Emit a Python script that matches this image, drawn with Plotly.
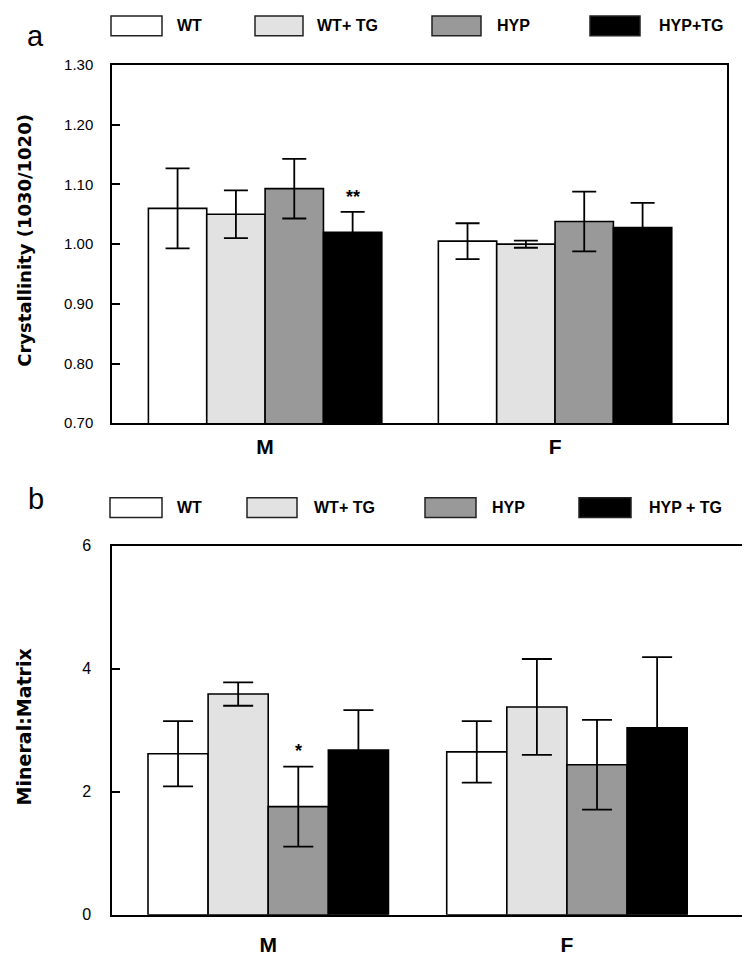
import plotly.graph_objects as go

# the page body has an 8px margin, so the figure is shifted by 8px; work in screen pixels
OFF = 8
W, H = 742, 958

groups = ["M", "F"]
series = ["WT", "WT+TG", "HYP", "HYP+TG"]
legend_a = ["WT", "WT+ TG", "HYP", "HYP+TG"]
legend_b = ["WT", "WT+ TG", "HYP", "HYP + TG"]
colors = ["#ffffff", "#e2e2e2", "#999999", "#000000"]

# panel a: crystallinity (1030/1020), mean and error for M, F
cryst_wt = [1.06, 1.005]
cryst_wt_tg = [1.05, 1.0]
cryst_hyp = [1.093, 1.038]
cryst_hyp_tg = [1.02, 1.028]
cryst_wt_err = [0.067, 0.03]
cryst_wt_tg_err = [0.04, 0.006]
cryst_hyp_err = [0.05, 0.05]
cryst_hyp_tg_err = [0.034, 0.041]

# panel b: mineral:matrix
mm_wt = [2.62, 2.65]
mm_wt_tg = [3.59, 3.38]
mm_hyp = [1.76, 2.44]
mm_hyp_tg = [2.68, 3.04]
mm_wt_err = [0.53, 0.5]
mm_wt_tg_err = [0.19, 0.78]
mm_hyp_err = [0.65, 0.73]
mm_hyp_tg_err = [0.65, 1.15]

cryst_ticks = [0.70, 0.80, 0.90, 1.00, 1.10, 1.20, 1.30]
mm_ticks = [0, 2, 4, 6]

BARGAP = 0.195
FONT = "Liberation Sans"


def px(x):
    return (x - OFF) / W


def py(y):
    return 1 - (y - OFF) / H


fig = go.Figure()

panel_a = [cryst_wt, cryst_wt_tg, cryst_hyp, cryst_hyp_tg]
panel_a_err = [cryst_wt_err, cryst_wt_tg_err, cryst_hyp_err, cryst_hyp_tg_err]
panel_b = [mm_wt, mm_wt_tg, mm_hyp, mm_hyp_tg]
panel_b_err = [mm_wt_err, mm_wt_tg_err, mm_hyp_err, mm_hyp_tg_err]

for i, name in enumerate(series):
    fig.add_trace(go.Bar(
        x=groups, y=panel_a[i], name=name, marker_color=colors[i],
        marker_line=dict(color="black", width=1.6),
        error_y=dict(type="data", array=panel_a_err[i], color="black", thickness=1.8, width=12),
        xaxis="x", yaxis="y", showlegend=False,
    ))
    fig.add_trace(go.Bar(
        x=groups, y=panel_b[i], name=name, marker_color=colors[i],
        marker_line=dict(color="black", width=1.6),
        error_y=dict(type="data", array=panel_b_err[i], color="black", thickness=1.8, width=15),
        xaxis="x2", yaxis="y2", showlegend=False,
    ))

axis_common = dict(showline=True, linecolor="black", linewidth=1.5, mirror=True, showgrid=False, zeroline=False)

fig.update_layout(
    width=W, height=H,
    margin=dict(l=0, r=0, t=0, b=0),
    paper_bgcolor="white", plot_bgcolor="white",
    barmode="group", bargap=BARGAP, bargroupgap=0,
    font=dict(family=FONT, color="black"),
    xaxis=dict(domain=[px(112), px(727)], anchor="y", range=[-0.528, 1.593], ticks="",
               tickfont=dict(size=21, weight="bold"), ticklabelstandoff=4, **axis_common),
    yaxis=dict(domain=[py(422), py(57)], anchor="x", range=[0.70, 1.30], tickvals=cryst_ticks,
               tickformat=".2f", ticks="inside", ticklen=8, tickwidth=1.5, tickcolor="black",
               tickfont=dict(size=15), ticklabelstandoff=14, **axis_common),
    xaxis2=dict(domain=[px(112), px(742)], anchor="y2", range=[-0.523, 1.586], ticks="",
                tickfont=dict(size=21, weight="bold"), ticklabelstandoff=10, **axis_common),
    yaxis2=dict(domain=[py(923), py(547)], anchor="x2", range=[0, 6], tickvals=mm_ticks,
                ticks="inside", ticklen=8, tickwidth=1.5, tickcolor="black",
                tickfont=dict(size=16), ticklabelstandoff=16, **axis_common),
)

annotations = [
    dict(text="Crystallinity (1030/1020)", x=px(25), y=py(236), xref="paper", yref="paper",
         xanchor="center", yanchor="middle", textangle=-90, showarrow=False,
         font=dict(size=18, weight="bold", family="DejaVu Sans")),
    dict(text="Mineral:Matrix", x=px(24), y=py(732), xref="paper", yref="paper",
         xanchor="center", yanchor="middle", textangle=-90, showarrow=False,
         font=dict(size=19, weight="bold", family="DejaVu Sans")),
    dict(text="a", x=px(35), y=py(27), xref="paper", yref="paper", xanchor="center", yanchor="middle",
         showarrow=False, font=dict(size=29)),
    dict(text="b", x=px(36), y=py(499), xref="paper", yref="paper", xanchor="center", yanchor="middle",
         showarrow=False, font=dict(size=29)),
]

# significance marks above M bars
bw = (1 - BARGAP) / len(series)
annotations.append(dict(text="**", x=0 + 1.5 * bw, y=cryst_hyp_tg[0] + cryst_hyp_tg_err[0],
                        xref="x", yref="y", xanchor="center", yanchor="bottom", yshift=3, showarrow=False,
                        font=dict(size=18, weight="bold")))
annotations.append(dict(text="*", x=0 + 0.5 * bw, y=mm_hyp[0] + mm_hyp_err[0],
                        xref="x2", yref="y2", xanchor="center", yanchor="bottom", yshift=4, showarrow=False,
                        font=dict(size=18, weight="bold")))

shapes = []
# custom legends drawn above each panel
leg_a_boxes = [(111, 162), (255, 303), (432, 481), (590, 640)]
leg_a_text = [175, 315, 495, 657]
leg_b_boxes = [(110, 162), (247, 297), (425, 476), (579, 631)]
leg_b_text = [175, 312, 490, 647]

for labels, boxes, texts, (y0, y1) in [(legend_a, leg_a_boxes, leg_a_text, (7, 27)),
                                       (legend_b, leg_b_boxes, leg_b_text, (498, 518))]:
    for i, lab in enumerate(labels):
        x0, x1 = boxes[i]
        shapes.append(dict(type="rect", xref="paper", yref="paper",
                           x0=px(x0), x1=px(x1), y0=py(y1), y1=py(y0),
                           fillcolor=colors[i], line=dict(color="#222222", width=1.5)))
        annotations.append(dict(text=lab, x=px(texts[i]), y=py((y0 + y1) / 2), xref="paper", yref="paper",
                                xanchor="left", yanchor="middle", showarrow=False,
                                font=dict(size=16, weight="bold")))

fig.update_layout(annotations=annotations, shapes=shapes)

fig.write_html("out.html")
